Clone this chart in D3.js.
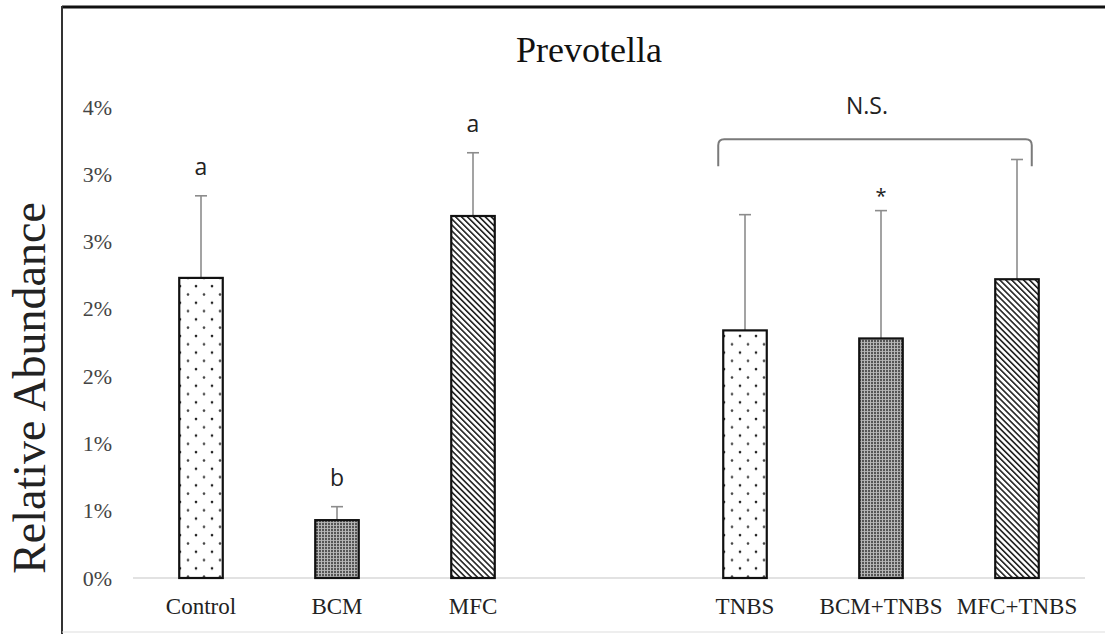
<!DOCTYPE html>
<html>
<head>
<meta charset="utf-8">
<script src="https://cdn.jsdelivr.net/npm/d3@7"></script>
<style>
  body { margin: 0; background: #fff; }
  svg { display: block; }
</style>
</head>
<body>
<svg></svg>
<script>
// slots along x; "" is the empty gap between the two groups
var slots = ["Control", "BCM", "MFC", "", "TNBS", "BCM+TNBS", "MFC+TNBS"];
var groups = ["Control", "BCM", "MFC", "TNBS", "BCM+TNBS", "MFC+TNBS"];
var means = [0.0223, 0.0043, 0.0269, 0.0184, 0.0178, 0.0222];
var sds = [0.0061, 0.0010, 0.0047, 0.0086, 0.0095, 0.0089];
var patterns = ["dots", "grid", "stripes", "dots", "grid", "stripes"];
var marks = ["a", "b", "a", "", "*", ""];
var yTicks = [0, 0.005, 0.01, 0.015, 0.02, 0.025, 0.03, 0.035];
var yTickLabels = ["0%", "1%", "1%", "2%", "2%", "3%", "3%", "4%"];
var nsGroups = ["TNBS", "MFC+TNBS"];

var width = 1105;
var height = 634;

var svg = d3.select("svg")
              .attr("width", width)
              .attr("height", height);

var x = d3.scaleBand()
            .domain(slots)
            .range([133, 1085])
            .paddingInner(0.68)
            .paddingOuter(0.34);

var y = d3.scaleLinear()
            .domain([0, 0.035])
            .range([578, 107]);

// fill patterns
var defs = svg.append("defs");

var dots = defs.append("pattern")
    .attr("id", "dots")
    .attr("patternUnits", "userSpaceOnUse")
    .attr("width", 16).attr("height", 16.6);
dots.append("rect").attr("width", 16).attr("height", 16.6).attr("fill", "#fff");
dots.append("circle").attr("cx", 4).attr("cy", 4).attr("r", 1.3).attr("fill", "#222");
dots.append("circle").attr("cx", 12).attr("cy", 12.3).attr("r", 1.3).attr("fill", "#444");

var grid = defs.append("pattern")
    .attr("id", "grid")
    .attr("patternUnits", "userSpaceOnUse")
    .attr("width", 3).attr("height", 3);
grid.append("rect").attr("width", 3).attr("height", 3).attr("fill", "#555");
grid.append("rect").attr("width", 3).attr("height", 1).attr("fill", "#aaa");
grid.append("rect").attr("width", 1).attr("height", 3).attr("fill", "#b8b8b8");

var stripes = defs.append("pattern")
    .attr("id", "stripes")
    .attr("patternUnits", "userSpaceOnUse")
    .attr("width", 4.2).attr("height", 4.2)
    .attr("patternTransform", "rotate(-45)");
stripes.append("rect").attr("width", 4.2).attr("height", 4.2).attr("fill", "#fff");
stripes.append("rect").attr("width", 1.6).attr("height", 4.2).attr("fill", "#222");

// frame
svg.append("line")
    .attr("x1", 62).attr("x2", width).attr("y1", 7).attr("y2", 7)
    .attr("stroke", "#111").attr("stroke-width", 3);
svg.append("line")
    .attr("x1", 62).attr("x2", 62).attr("y1", 6).attr("y2", height)
    .attr("stroke", "#333").attr("stroke-width", 2);
svg.append("line")
    .attr("x1", 62).attr("x2", width).attr("y1", 632).attr("y2", 632)
    .attr("stroke", "#ddd").attr("stroke-width", 1);

// title
svg.append("text")
    .attr("x", 589).attr("y", 62)
    .attr("text-anchor", "middle")
    .style("font-family", "'Liberation Serif', 'Times New Roman', serif")
    .style("font-size", "36px")
    .attr("fill", "#111")
    .text("Prevotella");

// y axis title
svg.append("text")
    .attr("transform", "translate(45," + 388 + ") rotate(-90)")
    .attr("text-anchor", "middle")
    .style("font-family", "'Liberation Serif', 'Times New Roman', serif")
    .style("font-size", "46px")
    .attr("fill", "#222")
    .text("Relative Abundance");

// y axis (labels only)
var yAxis = svg.append("g")
    .attr("transform", "translate(112,0)")
    .call(d3.axisLeft(y)
            .tickValues(yTicks)
            .tickFormat((d, i) => yTickLabels[i])
            .tickSize(0)
            .tickPadding(0));
yAxis.select(".domain").remove();
yAxis.selectAll("text")
    .style("font-family", "'Liberation Serif', 'Times New Roman', serif")
    .style("font-size", "22px")
    .attr("fill", "#444");

// baseline
svg.append("line")
    .attr("x1", 133).attr("x2", 1085)
    .attr("y1", y(0)).attr("y2", y(0))
    .attr("stroke", "#d9d9d9").attr("stroke-width", 1.5);

// x axis labels
var xAxis = svg.append("g")
    .attr("transform", "translate(0," + y(0) + ")")
    .call(d3.axisBottom(x).tickSize(0).tickPadding(20));
xAxis.select(".domain").remove();
xAxis.selectAll("text")
    .style("font-family", "'Liberation Serif', 'Times New Roman', serif")
    .style("font-size", "23px")
    .attr("fill", "#222");

var data = groups.map((g, i) => ({group: g, mean: means[i], sd: sds[i], pat: patterns[i], mark: marks[i]}));

// error bars (upper only)
var err = svg.append("g").selectAll("g")
    .data(data)
    .enter()
    .append("g")
      .attr("stroke", "#8c8c8c")
      .attr("stroke-width", 1.6);
err.append("line")
    .attr("x1", d => x(d.group) + x.bandwidth() / 2)
    .attr("x2", d => x(d.group) + x.bandwidth() / 2)
    .attr("y1", d => y(d.mean))
    .attr("y2", d => y(d.mean + d.sd));
err.append("line")
    .attr("x1", d => x(d.group) + x.bandwidth() / 2 - 6)
    .attr("x2", d => x(d.group) + x.bandwidth() / 2 + 6)
    .attr("y1", d => y(d.mean + d.sd))
    .attr("y2", d => y(d.mean + d.sd));

// bars
svg.append("g").selectAll("rect")
    .data(data)
    .enter()
    .append("rect")
      .attr("x", d => x(d.group))
      .attr("width", x.bandwidth())
      .attr("y", d => y(d.mean))
      .attr("height", d => y(0) - y(d.mean))
      .attr("fill", d => "url(#" + d.pat + ")")
      .attr("stroke", "#111")
      .attr("stroke-width", 2.2);

// significance letters
svg.append("g").selectAll("text")
    .data(data.filter(d => d.mark !== ""))
    .enter()
    .append("text")
      .attr("x", d => x(d.group) + x.bandwidth() / 2)
      .attr("y", d => y(d.mean + d.sd) - (d.mark === "*" ? 8 : 21))
      .attr("text-anchor", "middle")
      .style("font-family", "'Open Sans', 'Liberation Sans', sans-serif")
      .style("font-size", d => d.mark === "*" ? "20px" : "23px")
      .attr("fill", "#222")
      .text(d => d.mark);

// N.S. bracket
var bx0 = x(nsGroups[0]) - 5;
var bx1 = x(nsGroups[1]) + x.bandwidth() - 7;
var bTop = y(0.0326);
var bEnd = y(0.0306);
var r = 6;
svg.append("path")
    .attr("d", "M" + bx0 + "," + bEnd +
               " L" + bx0 + "," + (bTop + r) +
               " Q" + bx0 + "," + bTop + " " + (bx0 + r) + "," + bTop +
               " L" + (bx1 - r) + "," + bTop +
               " Q" + bx1 + "," + bTop + " " + bx1 + "," + (bTop + r) +
               " L" + bx1 + "," + bEnd)
    .attr("fill", "none")
    .attr("stroke", "#7a7a7a")
    .attr("stroke-width", 2);

svg.append("text")
    .attr("x", (bx0 + bx1) / 2 - 8)
    .attr("y", bTop - 25)
    .attr("text-anchor", "middle")
    .style("font-family", "'Open Sans', 'Liberation Sans', sans-serif")
    .style("font-size", "23px")
    .attr("fill", "#222")
    .text("N.S.");
</script>
</body>
</html>
